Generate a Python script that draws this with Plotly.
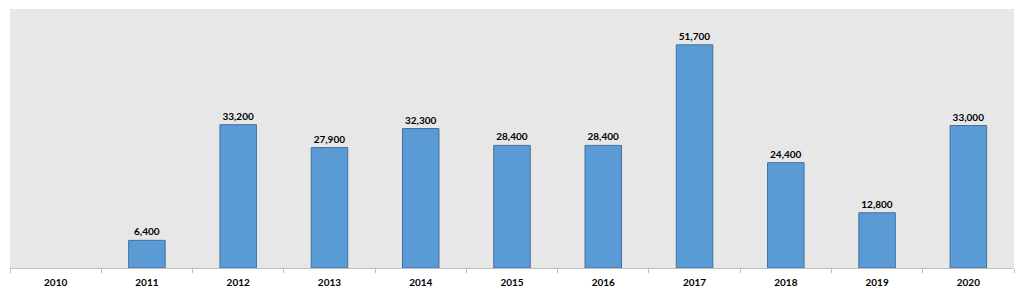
import plotly.graph_objects as go

years = ["2010", "2011", "2012", "2013", "2014", "2015", "2016", "2017", "2018", "2019", "2020"]
values = [None, 6400, 33200, 27900, 32300, 28400, 28400, 51700, 24400, 12800, 33000]
labels = ["" if v is None else f"{v:,}" for v in values]

fig = go.Figure(go.Bar(
    x=years, y=values, text=labels, textposition="outside",
    width=0.4,
    marker=dict(color="#5B9BD5", line=dict(color="#41719C", width=1)),
    textfont=dict(family="Lato", size=10, color="#000000", weight="bold"),
    cliponaxis=False,
))
fig.update_layout(
    width=1024, height=293,
    margin=dict(l=10, r=10, t=9, b=25),
    paper_bgcolor="white", plot_bgcolor="#E7E7E7",
    showlegend=False,
    uniformtext=dict(minsize=10, mode="show"),
)
fig.update_xaxes(
    type="category", tickson="boundaries", ticks="outside", ticklen=4,
    tickcolor="#BFBFBF", showline=True, linecolor="#BFBFBF", linewidth=1,
    tickfont=dict(family="Lato", size=10, color="#000000", weight="bold"),
    ticklabelstandoff=5, automargin=False,
    showgrid=False,
)
fig.update_yaxes(range=[0, 60000], visible=False, showgrid=False)
fig.write_html("out.html")
